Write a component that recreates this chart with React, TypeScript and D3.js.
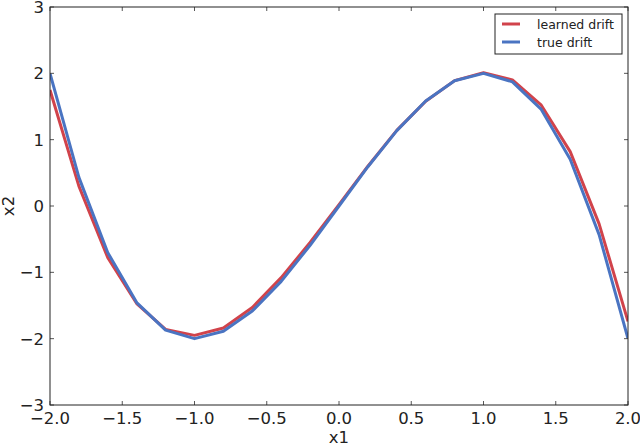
import React from "react";
import * as d3 from "d3";

const xs = [-2.0, -1.8, -1.6, -1.4, -1.2, -1.0, -0.8, -0.6, -0.4, -0.2, 0.0, 0.2, 0.4, 0.6, 0.8, 1.0, 1.2, 1.4, 1.6, 1.8, 2.0];
const trueDrift = [2.0, 0.432, -0.704, -1.456, -1.872, -2.0, -1.888, -1.584, -1.136, -0.592, 0.0, 0.592, 1.136, 1.584, 1.888, 2.0, 1.872, 1.456, 0.704, -0.432, -2.0];
const learnedDrift = [1.75, 0.3, -0.78, -1.47, -1.86, -1.95, -1.84, -1.53, -1.08, -0.55, 0.02, 0.6, 1.14, 1.58, 1.89, 2.01, 1.9, 1.52, 0.82, -0.27, -1.74];
const xTicks = [-2.0, -1.5, -1.0, -0.5, 0.0, 0.5, 1.0, 1.5, 2.0];
const yTicks = [-3, -2, -1, 0, 1, 2, 3];
const seriesNames = ["learned drift", "true drift"];
const colors = ["#d1434b", "#4a74c2"];

const W = 640, H = 445;
const L = 50, R = 628, T = 7, B = 405;

export default function App() {
  const x = d3.scaleLinear().domain([-2, 2]).range([L, R]);
  const y = d3.scaleLinear().domain([-3, 3]).range([B, T]);
  const line = d3.line<number>().x((_, i) => x(xs[i])).y((d) => y(d));
  const fmtX = (v: number) => (v < 0 ? "\u2212" : "") + Math.abs(v).toFixed(1);
  const fmtY = (v: number) => (v < 0 ? "\u2212" : "") + Math.abs(v).toString();
  const font = "DejaVu Sans, sans-serif";
  const series = [learnedDrift, trueDrift];
  return (
    <svg width={W} height={H} style={{ position: "fixed", left: 0, top: 0, background: "#fff" }} fontFamily={font}>
      <defs>
        <clipPath id="plotclip">
          <rect x={L} y={T} width={R - L} height={B - T} />
        </clipPath>
      </defs>
      <g clipPath="url(#plotclip)">
        {series.map((s, k) => (
          <path key={k} d={line(s) || ""} fill="none" stroke={colors[k]} strokeWidth={3} strokeLinejoin="round" />
        ))}
      </g>
      {xTicks.map((t, i) => (
        <g key={"xt" + i}>
          <line x1={x(t)} x2={x(t)} y1={B} y2={B - 4} stroke="#555" strokeWidth={1} />
          <line x1={x(t)} x2={x(t)} y1={T} y2={T + 4} stroke="#555" strokeWidth={1} />
          <text x={x(t)} y={424} textAnchor="middle" fontSize={16.5} fill="#222">{fmtX(t)}</text>
        </g>
      ))}
      {yTicks.map((t, i) => (
        <g key={"yt" + i}>
          <line x1={L} x2={L + 4} y1={y(t)} y2={y(t)} stroke="#555" strokeWidth={1} />
          <line x1={R} x2={R - 4} y1={y(t)} y2={y(t)} stroke="#555" strokeWidth={1} />
          <text x={44} y={y(t) + 6} textAnchor="end" fontSize={16.5} fill="#222">{fmtY(t)}</text>
        </g>
      ))}
      <rect x={L} y={T} width={R - L} height={B - T} fill="none" stroke="#222" strokeWidth={1} />
      <text x={(L + R) / 2} y={443} textAnchor="middle" fontSize={16.5} fill="#222">x1</text>
      <text transform={`translate(14,${(T + B) / 2}) rotate(-90)`} textAnchor="middle" fontSize={16.5} fill="#222">x2</text>
      <rect x={495} y={14} width={127} height={40} fill="#fff" stroke="#222" strokeWidth={1} />
      {seriesNames.map((n, k) => (
        <g key={"lg" + k}>
          <line x1={502} x2={520} y1={24 + k * 18} y2={24 + k * 18} stroke={colors[k]} strokeWidth={3} />
          <text x={537} y={28.5 + k * 18} fontSize={12.5} fill="#222">{n}</text>
        </g>
      ))}
    </svg>
  );
}
